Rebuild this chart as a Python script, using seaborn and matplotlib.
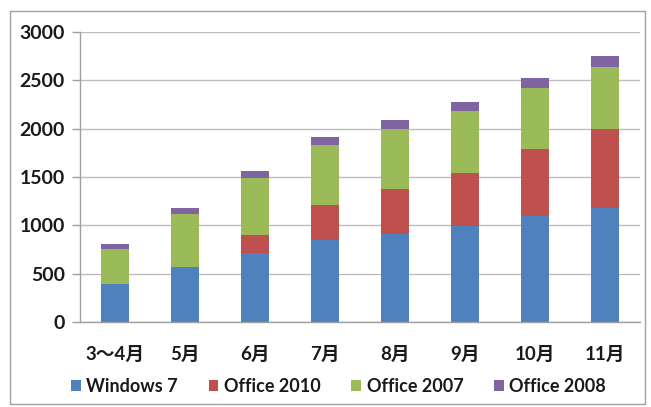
import matplotlib
matplotlib.use("Agg")
import matplotlib.pyplot as plt
import seaborn as sns
import pandas as pd
import numpy as np
from matplotlib.patches import Rectangle, Patch

categories = ["3～4月", "5月", "6月", "7月", "8月", "9月", "10月", "11月"]
windows7 = [390, 570, 715, 850, 910, 995, 1095, 1180]
office2010 = [0, 0, 180, 365, 465, 550, 690, 815]
office2007 = [370, 550, 595, 620, 620, 640, 640, 640]
office2008 = [45, 55, 70, 80, 90, 90, 100, 120]
series_names = ["Windows 7", "Office 2010", "Office 2007", "Office 2008"]
colors = ["#4F81BD", "#C0504D", "#9BBB59", "#8064A2"]
yticks = [0, 500, 1000, 1500, 2000, 2500, 3000]

sns.set_theme(style="white")
plt.rcParams["font.family"] = ["Lato", "Noto Sans CJK JP", "DejaVu Sans"]

W, H = 651, 407
fig = plt.figure(figsize=(W / 100, H / 100), dpi=100)
ax = fig.add_axes([80 / W, 1 - 322 / H, 560 / W, 290 / H])

series = [windows7, office2010, office2007, office2008]
cum = np.cumsum(np.array(series, dtype=float), axis=0)
df = pd.DataFrame({"cat": categories})
for i in range(len(series) - 1, -1, -1):
    df["v"] = cum[i]
    sns.barplot(data=df, x="cat", y="v", color=colors[i], saturation=1,
                width=0.4, ax=ax, linewidth=0, order=categories)

ax.set_ylim(0, 3000)
ax.set_xlim(-0.5, len(categories) - 0.5)
ax.set_yticks(yticks)
ax.set_yticklabels([str(t) for t in yticks], fontsize=14, fontweight="bold", color="#1a1a1a")
ax.yaxis.grid(True, color="#BDBDBD", linewidth=1.0)
ax.set_axisbelow(True)
ax.set_xlabel("")
ax.set_ylabel("")

# x labels at centers, tick marks between categories
ax.set_xticks(range(len(categories)))
ax.set_xticklabels(categories, fontsize=13.5, fontweight="bold", color="#1a1a1a")
ax.tick_params(axis="x", length=0, pad=17)
ax.set_xticks(np.arange(-0.5, len(categories) + 0.5, 1), minor=True)
ax.tick_params(axis="x", which="minor", length=5, width=1, color="#A0A0A0", direction="out")
ax.tick_params(axis="y", length=6, width=1, color="#A0A0A0", direction="out", pad=5, left=True)

for s in ["top", "right"]:
    ax.spines[s].set_visible(False)
for s in ["left", "bottom"]:
    ax.spines[s].set_color("#A0A0A0")
    ax.spines[s].set_linewidth(1)

handles = [Patch(facecolor=c, edgecolor="none") for c in colors]
leg = fig.legend(handles, series_names, loc="center", bbox_to_anchor=(0.52, 1 - 386 / H),
                 ncol=4, frameon=False, handlelength=0.55, handleheight=0.55,
                 handletextpad=0.3, columnspacing=1.7,
                 prop={"weight": "bold", "size": 13})
for t in leg.get_texts():
    t.set_color("#1a1a1a")

fig.patches.append(Rectangle((10 / W, 1 - 404 / H), 635 / W, 393 / H,
                             transform=fig.transFigure, fill=False,
                             edgecolor="#A0A0A0", linewidth=1))

fig.savefig("out.png", dpi=100)
